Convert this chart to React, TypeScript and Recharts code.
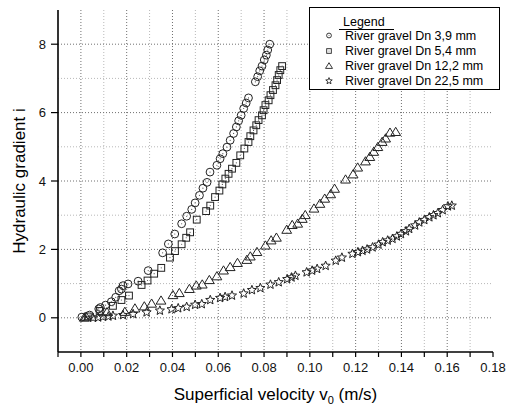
import React from 'react';
import { ScatterChart, Scatter, XAxis, YAxis, CartesianGrid } from 'recharts';

const seriesNames = [
  'River gravel Dn 3,9 mm',
  'River gravel Dn 5,4 mm',
  'River gravel Dn 12,2 mm',
  'River gravel Dn 22,5 mm',
];

const gravel39: [number, number][] = [
  [0.0004, 0.02], [0.0038, 0.08], [0.0078, 0.26], [0.0085, 0.3], [0.0108, 0.37], [0.0133, 0.47],
  [0.0152, 0.6], [0.0167, 0.79], [0.0177, 0.84], [0.0184, 0.94], [0.0206, 0.99], [0.025, 1.07],
  [0.0294, 1.38], [0.0357, 1.9], [0.0382, 2.16], [0.041, 2.45], [0.044, 2.75], [0.0462, 2.97],
  [0.0484, 3.17], [0.0499, 3.36], [0.0518, 3.58], [0.0533, 3.79], [0.0551, 3.96], [0.0564, 4.26],
  [0.0594, 4.46], [0.0608, 4.65], [0.062, 4.8], [0.0638, 4.99], [0.0652, 5.19], [0.0667, 5.39],
  [0.0679, 5.58], [0.0689, 5.76], [0.07, 5.92], [0.0711, 6.12], [0.0722, 6.28], [0.0732, 6.43],
  [0.0762, 6.9], [0.0772, 7.05], [0.0781, 7.22], [0.0791, 7.36], [0.0801, 7.54], [0.081, 7.68],
  [0.0816, 7.83], [0.0825, 8.0],
];

const gravel54: [number, number][] = [
  [0.003, 0.04], [0.0082, 0.2], [0.014, 0.35], [0.0177, 0.52], [0.021, 0.65], [0.0265, 0.96],
  [0.0291, 1.09], [0.032, 1.29], [0.0351, 1.46], [0.0389, 1.76], [0.0411, 1.95], [0.044, 2.15],
  [0.046, 2.34], [0.0477, 2.5], [0.0506, 2.87], [0.0547, 3.12], [0.0565, 3.28], [0.0586, 3.53],
  [0.0605, 3.72], [0.0618, 3.9], [0.0631, 4.07], [0.0645, 4.21], [0.066, 4.36], [0.0679, 4.53],
  [0.0696, 4.75], [0.0714, 4.95], [0.0732, 5.14], [0.074, 5.31], [0.0754, 5.48], [0.0766, 5.63],
  [0.0776, 5.78], [0.0791, 5.92], [0.0798, 6.07], [0.0806, 6.22], [0.082, 6.36], [0.0828, 6.51],
  [0.0839, 6.66], [0.085, 6.8], [0.0857, 6.95], [0.0864, 7.1], [0.0871, 7.24], [0.0879, 7.36],
];

const gravel122: [number, number][] = [
  [0.0015, 0.0], [0.0023, 0.03], [0.0114, 0.16], [0.0192, 0.17], [0.0236, 0.27], [0.0277, 0.33],
  [0.0309, 0.41], [0.035, 0.5], [0.0402, 0.66], [0.043, 0.72], [0.0474, 0.84], [0.0504, 0.94],
  [0.053, 0.97], [0.0561, 1.1], [0.0594, 1.21], [0.0623, 1.38], [0.0652, 1.48], [0.0684, 1.6],
  [0.0725, 1.69], [0.074, 1.79], [0.0769, 1.92], [0.0806, 2.11], [0.0831, 2.26], [0.0854, 2.34],
  [0.0899, 2.57], [0.0923, 2.71], [0.0947, 2.75], [0.0967, 2.89], [0.098, 3.0], [0.1018, 3.19],
  [0.1044, 3.33], [0.1065, 3.48], [0.1091, 3.61], [0.1108, 3.77], [0.1156, 4.04], [0.1189, 4.19],
  [0.1209, 4.39], [0.1243, 4.57], [0.1262, 4.7], [0.1279, 4.85], [0.1297, 4.99], [0.1316, 5.14],
  [0.1331, 5.24], [0.135, 5.41], [0.1375, 5.43],
];

const gravel225: [number, number][] = [
  [0.0053, 0.0], [0.0075, 0.01], [0.0096, 0.03], [0.012, 0.04], [0.014, 0.06], [0.0184, 0.08],
  [0.0228, 0.11], [0.0287, 0.16], [0.0345, 0.21], [0.0396, 0.25], [0.0425, 0.28], [0.0462, 0.32],
  [0.0499, 0.38], [0.0528, 0.4], [0.0565, 0.52], [0.0608, 0.58], [0.063, 0.61], [0.066, 0.65],
  [0.0711, 0.71], [0.0747, 0.81], [0.0784, 0.87], [0.0828, 0.97], [0.0864, 1.04], [0.0901, 1.13],
  [0.092, 1.18], [0.0937, 1.23], [0.0986, 1.33], [0.101, 1.38], [0.1032, 1.43], [0.1069, 1.52],
  [0.1113, 1.67], [0.114, 1.76], [0.1186, 1.87], [0.121, 1.92], [0.123, 1.96], [0.125, 2.0],
  [0.1274, 2.06], [0.13, 2.14], [0.1318, 2.21], [0.134, 2.26], [0.1361, 2.31], [0.138, 2.38],
  [0.1398, 2.45], [0.142, 2.53], [0.1434, 2.6], [0.146, 2.7], [0.1478, 2.79], [0.15, 2.86],
  [0.1522, 2.94], [0.154, 3.0], [0.1559, 3.06], [0.158, 3.15], [0.1603, 3.26], [0.162, 3.28],
];

const xTicks = [-0.01, 0, 0.01, 0.02, 0.03, 0.04, 0.05, 0.06, 0.07, 0.08, 0.09, 0.1, 0.11, 0.12, 0.13, 0.14, 0.15, 0.16, 0.17, 0.18];
const xMajorGrid = [0, 0.02, 0.04, 0.06, 0.08, 0.1, 0.12, 0.14, 0.16];
const xMinorGrid = [0.01, 0.03, 0.05, 0.07, 0.09, 0.11, 0.13, 0.15, 0.17];
const yTicks = [0, 2, 4, 6, 8];
const yMinorGrid = [1, 3, 5, 7];

const toPts = (arr: [number, number][]) => arr.map(([v, i]) => ({ v, i }));

const FONT = '"Liberation Sans", Arial, sans-serif';
const STROKE = '#222';

const CircleShape = (p: any) => (
  <g>
    <circle cx={p.cx} cy={p.cy} r={3.9} fill="none" stroke={STROKE} strokeWidth={1} />
    <circle cx={p.cx} cy={p.cy} r={0.6} fill="#555" />
  </g>
);
const SquareShape = (p: any) => (
  <g>
    <rect x={p.cx - 3.4} y={p.cy - 3.4} width={6.8} height={6.8} fill="none" stroke={STROKE} strokeWidth={1} />
    <circle cx={p.cx} cy={p.cy} r={0.6} fill="#555" />
  </g>
);
const TriangleShape = (p: any) => (
  <polygon
    points={`${p.cx},${p.cy - 4.8} ${p.cx - 4.9},${p.cy + 3.4} ${p.cx + 4.9},${p.cy + 3.4}`}
    fill="none"
    stroke={STROKE}
    strokeWidth={1}
  />
);
const starPoints = (cx: number, cy: number, ro: number, ri: number) => {
  const pts: string[] = [];
  for (let k = 0; k < 10; k++) {
    const r = k % 2 === 0 ? ro : ri;
    const a = -Math.PI / 2 + (k * Math.PI) / 5;
    pts.push(`${cx + r * Math.cos(a)},${cy + r * Math.sin(a)}`);
  }
  return pts.join(' ');
};
const StarShape = (p: any) => (
  <polygon points={starPoints(p.cx, p.cy, 4.8, 2.1)} fill="none" stroke={STROKE} strokeWidth={1} />
);

const XLabel = (props: any) => {
  const vb = props.viewBox || {};
  const cx = vb.x + vb.width / 2;
  return (
    <text x={cx} y={400} textAnchor="middle" fontSize={17} fontFamily={FONT} fill="#000">
      <tspan>Superficial velocity v</tspan>
      <tspan dy={4} fontSize={11}>0</tspan>
      <tspan dy={-4}> (m/s)</tspan>
    </text>
  );
};

const YLabel = (props: any) => {
  const vb = props.viewBox || {};
  const cy = vb.y + vb.height / 2;
  return (
    <text x={25} y={cy} transform={`rotate(-90, 25, ${cy})`} textAnchor="middle" fontSize={17} fontFamily={FONT} fill="#000">
      Hydraulic gradient i
    </text>
  );
};

const fmtX = (v: number) => (Math.round(v * 100) % 2 === 0 && v >= 0 ? v.toFixed(2) : '');

const LegendBox = () => {
  const rows = [
    { y: 31.5, icon: (x: number, y: number) => (
      <g><circle cx={x} cy={y} r={2.4} fill="none" stroke={STROKE} strokeWidth={0.9} /><circle cx={x} cy={y} r={0.5} fill="#555" /></g>
    ) },
    { y: 47, icon: (x: number, y: number) => (
      <g><rect x={x - 2.3} y={y - 2.3} width={4.6} height={4.6} fill="none" stroke={STROKE} strokeWidth={0.9} /><circle cx={x} cy={y} r={0.5} fill="#555" /></g>
    ) },
    { y: 62, icon: (x: number, y: number) => (
      <polygon points={`${x},${y - 3.3} ${x - 3.5},${y + 2.4} ${x + 3.5},${y + 2.4}`} fill="none" stroke={STROKE} strokeWidth={0.9} />
    ) },
    { y: 77, icon: (x: number, y: number) => (
      <polygon points={starPoints(x, y, 3.4, 1.5)} fill="none" stroke={STROKE} strokeWidth={0.9} />
    ) },
  ];
  return (
    <div style={{ position: 'absolute', left: 309, top: 7, width: 191, height: 83, boxSizing: 'border-box', border: '1px solid #000', background: '#fff' }}>
      <svg width={189} height={81} style={{ display: 'block' }}>
        <text x={33} y={18} fontSize={12.5} fontFamily={FONT} fill="#000">Legend</text>
        <line x1={29} x2={84} y1={21.5} y2={21.5} stroke="#000" strokeWidth={1} />
        {rows.map((r, k) => (
          <g key={k}>
            {r.icon(19, r.y - 4)}
            <text x={35} y={r.y} fontSize={12.5} fontFamily={FONT} fill="#000">{seriesNames[k]}</text>
          </g>
        ))}
      </svg>
    </div>
  );
};

export default function App() {
  return (
    <div style={{ position: 'absolute', left: 0, top: 0, width: 506, height: 407, background: '#fff' }}>
      <ScatterChart width={506} height={407} margin={{ top: 10, right: 13, left: 0, bottom: 0 }}>
        <CartesianGrid verticalValues={xMinorGrid} horizontalValues={yMinorGrid} stroke="#b8b8b8" strokeDasharray="1 2" />
        <CartesianGrid verticalValues={xMajorGrid} horizontalValues={yTicks} stroke="#707070" strokeDasharray="1 2" />
        <XAxis
          type="number"
          dataKey="v"
          domain={[-0.01, 0.18]}
          ticks={xTicks}
          interval={0}
          allowDataOverflow
          tickFormatter={fmtX}
          height={55}
          tickSize={5}
          tickMargin={6}
          axisLine={{ stroke: '#000', strokeWidth: 1.6 }}
          tickLine={{ stroke: '#000', strokeWidth: 1.2 }}
          tick={{ fontSize: 13, fontFamily: FONT, fill: '#111' }}
          label={<XLabel />}
        />
        <YAxis
          type="number"
          dataKey="i"
          domain={[-1, 9]}
          ticks={yTicks}
          interval={0}
          allowDataOverflow
          width={58}
          tickSize={7}
          tickMargin={5}
          axisLine={{ stroke: '#000', strokeWidth: 1.6 }}
          tickLine={{ stroke: '#000', strokeWidth: 1.2 }}
          tick={{ fontSize: 13, fontFamily: FONT, fill: '#111' }}
          label={<YLabel />}
        />
        <Scatter name={seriesNames[0]} data={toPts(gravel39)} shape={CircleShape} isAnimationActive={false} />
        <Scatter name={seriesNames[1]} data={toPts(gravel54)} shape={SquareShape} isAnimationActive={false} />
        <Scatter name={seriesNames[2]} data={toPts(gravel122)} shape={TriangleShape} isAnimationActive={false} />
        <Scatter name={seriesNames[3]} data={toPts(gravel225)} shape={StarShape} isAnimationActive={false} />
      </ScatterChart>
      <LegendBox />
    </div>
  );
}
